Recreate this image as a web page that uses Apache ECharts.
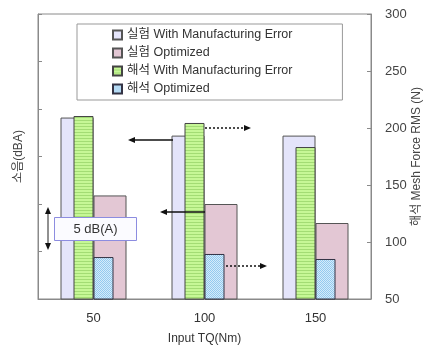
<!DOCTYPE html>
<html><head><meta charset="utf-8">
<script src="https://cdn.jsdelivr.net/npm/echarts@6/dist/echarts.min.js"></script>
<style>html,body{margin:0;padding:0;background:#fff;}#c{width:428px;height:352px;}</style>
</head><body><div id="c"></div>
<script>
const categories = ['50', '100', '150'];
const expWithError = [79.1, 77.2, 77.2];      // 실험 (dBA, left axis)
const expOptimized = [70.9, 70.0, 68.0];
const anaWithError = [210.5, 204.4, 183.3];   // 해석 (N, right axis)
const anaOptimized = [86.8, 89.5, 85.1];
const rightTicks = [50, 100, 150, 200, 250, 300];
const seriesNames = ['실험 With Manufacturing Error', '실험 Optimized', '해석 With Manufacturing Error', '해석 Optimized'];

const FONT = "'Liberation Sans', 'Noto Sans CJK KR', sans-serif";

function stripeCanvas() {
  const c = document.createElement('canvas'); c.width = 4; c.height = 3;
  const g = c.getContext('2d');
  g.fillStyle = '#c6f796'; g.fillRect(0, 0, 4, 3);
  g.fillStyle = '#a3dc74'; g.fillRect(0, 0, 4, 1);
  return c;
}
function dotCanvas() {
  const c = document.createElement('canvas'); c.width = 2; c.height = 2;
  const g = c.getContext('2d');
  g.fillStyle = '#d4ecfa'; g.fillRect(0, 0, 2, 2);
  g.fillStyle = '#94c9ef'; g.fillRect(0, 0, 1, 1); g.fillRect(1, 1, 1, 1);
  return c;
}

const chart = echarts.init(document.getElementById('c'), null, {renderer: 'canvas'});
const axisGray = '#8a8a8a';
const option = {
  animation: false,
  backgroundColor: '#fff',
  textStyle: {fontFamily: FONT},
  grid: {left: 38, right: 57, top: 14, bottom: 53, outerBoundsMode: 'none', containLabel: false,
         show: true, borderColor: axisGray, borderWidth: 1, backgroundColor: 'transparent'},
  legend: {
    orient: 'vertical', left: 77, top: 24,
    padding: [4, 50, 4, 35], itemGap: 4, itemWidth: 9, itemHeight: 9,
    backgroundColor: '#fff', borderColor: '#999', borderWidth: 1,
    textStyle: {fontSize: 12.5, color: '#333', fontFamily: FONT, lineHeight: 14},
    data: seriesNames.map(n => ({name: n, icon: 'rect'}))
  },
  xAxis: [
    {type: 'category', data: categories, gridIndex: 0,
     axisLine: {lineStyle: {color: axisGray}}, axisTick: {inside: true, length: 3, lineStyle: {color: axisGray}},
     axisLabel: {fontSize: 13, color: '#333', margin: 13, fontFamily: FONT},
     name: 'Input TQ(Nm)', nameLocation: 'middle', nameGap: 34,
     nameTextStyle: {fontSize: 12, color: '#333', fontFamily: FONT}},
    {type: 'category', data: categories, gridIndex: 0, show: false}
  ],
  yAxis: [
    {type: 'value', min: 60, max: 90, interval: 5, position: 'left',
     axisLine: {show: true, lineStyle: {color: axisGray}}, axisTick: {show: true, inside: true, length: 4, lineStyle: {color: axisGray}},
     axisLabel: {show: false}, splitLine: {show: false},
     name: '소음(dBA)', nameLocation: 'middle', nameGap: 13, nameRotate: 90, nameMoveOverlap: false,
     nameTextStyle: {fontSize: 12, color: '#444', fontFamily: FONT}},
    {type: 'value', min: 50, max: 300, interval: 50, position: 'right',
     axisLine: {show: true, lineStyle: {color: axisGray}}, axisTick: {show: true, inside: true, length: 4, lineStyle: {color: axisGray}},
     axisLabel: {fontSize: 13, color: '#444', margin: 14, fontFamily: FONT,
                 formatter: v => rightTicks.includes(v) ? String(v) : ''},
     splitLine: {show: false},
     name: '해석 Mesh Force RMS (N)', nameLocation: 'middle', nameGap: 40, nameRotate: 90, nameMoveOverlap: false,
     nameTextStyle: {fontSize: 12, color: '#444', fontFamily: FONT}}
  ],
  series: [
    {name: seriesNames[0], type: 'bar', xAxisIndex: 0, yAxisIndex: 0, data: expWithError, barWidth: 33, barGap: '0%', z: 2,
     itemStyle: {color: '#e4e4fa', borderColor: '#555', borderWidth: 1}},
    {name: seriesNames[1], type: 'bar', xAxisIndex: 0, yAxisIndex: 0, data: expOptimized, barWidth: 33, barGap: '0%', z: 2,
     itemStyle: {color: '#e3c7d4', borderColor: '#555', borderWidth: 1}},
    {name: seriesNames[2], type: 'bar', xAxisIndex: 1, yAxisIndex: 1, data: anaWithError, barWidth: 20, barGap: '0%', z: 3,
     itemStyle: {color: {image: stripeCanvas(), repeat: 'repeat'}, borderColor: '#444', borderWidth: 1}},
    {name: seriesNames[3], type: 'bar', xAxisIndex: 1, yAxisIndex: 1, data: anaOptimized, barWidth: 20, barGap: '0%', z: 3,
     itemStyle: {color: {image: dotCanvas(), repeat: 'repeat'}, borderColor: '#334', borderWidth: 1}}
  ]
};
chart.setOption(option);

// annotation arrows and 5 dB(A) box
function hArrow(x1, x2, y, dotted) {
  const dir = x2 > x1 ? 1 : -1;
  return [
    {type: 'line', z: 100, shape: {x1: x1, y1: y, x2: x2 - dir * 5, y2: y},
     style: {stroke: '#111', lineWidth: 1.6, lineDash: dotted ? [2, 2] : null}},
    {type: 'polygon', z: 100, shape: {points: [[x2, y], [x2 - dir * 7, y - 3], [x2 - dir * 7, y + 3]]}, style: {fill: '#111'}}
  ];
}
const graphics = [].concat(
  hArrow(173, 128, 140, false),
  hArrow(205, 251, 128, true),
  hArrow(205, 160, 212, false),
  hArrow(226, 267, 266, true),
  [
    {type: 'line', z: 100, shape: {x1: 48, y1: 213, x2: 48, y2: 244}, style: {stroke: '#222', lineWidth: 1}},
    {type: 'polygon', z: 100, shape: {points: [[48, 207], [45, 214], [51, 214]]}, style: {fill: '#111'}},
    {type: 'polygon', z: 100, shape: {points: [[48, 250], [45, 243], [51, 243]]}, style: {fill: '#111'}},
    {type: 'rect', z: 100, shape: {x: 54.5, y: 217.5, width: 82, height: 23}, style: {fill: '#fbfbff', stroke: '#8c8ce0', lineWidth: 1}},
    {type: 'text', z: 101, x: 95.5, y: 229, style: {text: '5 dB(A)', fontSize: 13, fontFamily: FONT, fill: '#333', align: 'center', verticalAlign: 'middle'}}
  ]
);
chart.setOption({graphic: graphics});
</script></body></html>
